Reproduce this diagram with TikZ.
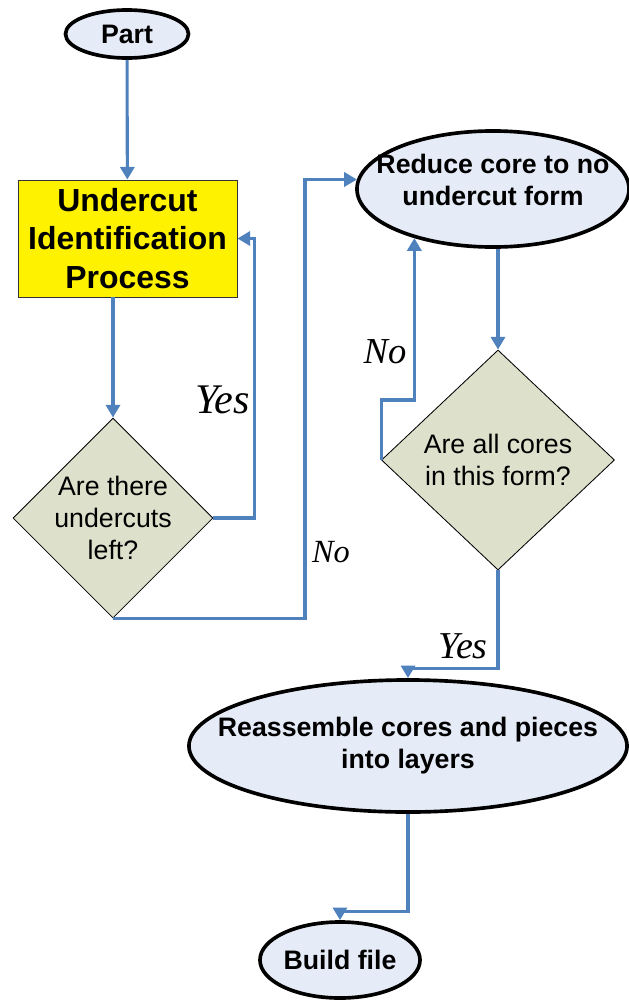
\documentclass[tikz,border=0pt]{standalone}
\usepackage{fontspec}
\setmainfont{Liberation Sans}
\newfontfamily\answerfont{Liberation Serif}
\usepackage{tikz}
\usetikzlibrary{shapes.geometric,arrows.meta,positioning}
\definecolor{lineblue}{RGB}{79,129,189}
\definecolor{ellfill}{RGB}{230,236,247}
\definecolor{decfill}{RGB}{221,224,203}

\begin{document}
\begin{tikzpicture}[x=0.025cm, y=-0.025cm]
    % Stili
    \tikzstyle{terminal}=[ellipse, draw=black, line width=2.6pt, fill=ellfill, inner xsep=-1cm, inner ysep=0pt, align=center, font=\fontsize{19}{22.7}\selectfont\bfseries]
    \tikzstyle{process}=[rectangle, draw=black!80, line width=0.6pt, fill=yellow, minimum width=5.475cm, minimum height=2.925cm, align=center, font=\fontsize{22.7}{27.3}\selectfont\bfseries]
    \tikzstyle{decision}=[diamond, aspect=1, draw=black, line width=0.6pt, fill=decfill, inner sep=-4pt, align=center, font=\fontsize{19}{23}\selectfont]
    \tikzstyle{arrow}=[->, >={Triangle[length=9pt,width=10pt]}, draw=lineblue, line width=2.2pt]
    \tikzstyle{answer}=[anchor=base, inner sep=0pt]

    \useasboundingbox (0,0) rectangle (629,1000);

    % Nodi
    \node (part) [terminal, minimum width=3.075cm, minimum height=1.2cm] at (127,34) {Part};
    \node (ident) [process] at (127.5,238.5) {Undercut\\Identification\\Process};
    \node (left) [decision, minimum width=5cm, minimum height=5cm] at (113,518) {Are there\\undercuts\\left?};
    \node (reduce) [terminal, minimum width=6.8cm, minimum height=2.9cm, text depth=13pt] at (493,189) {Reduce core to no\\undercut form};
    \node (allcores) [decision, minimum width=5.825cm, minimum height=5.5cm] at (498,460) {Are all cores\\in this form?};
    \node (layers) [terminal, minimum width=10.95cm, minimum height=3.3cm] at (408,746) {Reassemble cores and pieces\\into layers};
    \node (build) [terminal, minimum width=4cm, minimum height=1.9cm] at (340,960) {Build file};

    % Etichette
    \node (yesleft) [answer, font=\answerfont\itshape\fontsize{30}{30}\selectfont] at (222.5,413) {Yes};
    \node (nolower) [answer, font=\answerfont\itshape\fontsize{23}{23}\selectfont] at (331,562) {No};
    \node (noupper) [answer, font=\answerfont\itshape\fontsize{26}{26}\selectfont] at (385,363) {No};
    \node (yesright) [answer, font=\answerfont\itshape\fontsize{27}{27}\selectfont] at (463,658) {Yes};

    % Collegamenti
    \draw [arrow] (part) -- (ident);
    \draw [arrow] (ident.south -| left.north) -- (left.north);
    \draw [arrow] (left.east) -- ++(41,0) |- (ident.east);
    \draw [arrow] (left.south) -- ++(192,0) |- (reduce.176);
    \draw [arrow] (allcores.north |- reduce.south) -- (allcores.north);
    \draw [arrow] (allcores.west) -- ++(0,-60) -| (reduce.212);
    \draw [arrow] (allcores.south) -- ++(0,98) -| (layers.north);
    \draw [arrow] (layers.south) -- ++(0,98) -| (build.north);

\end{tikzpicture}
\end{document}
